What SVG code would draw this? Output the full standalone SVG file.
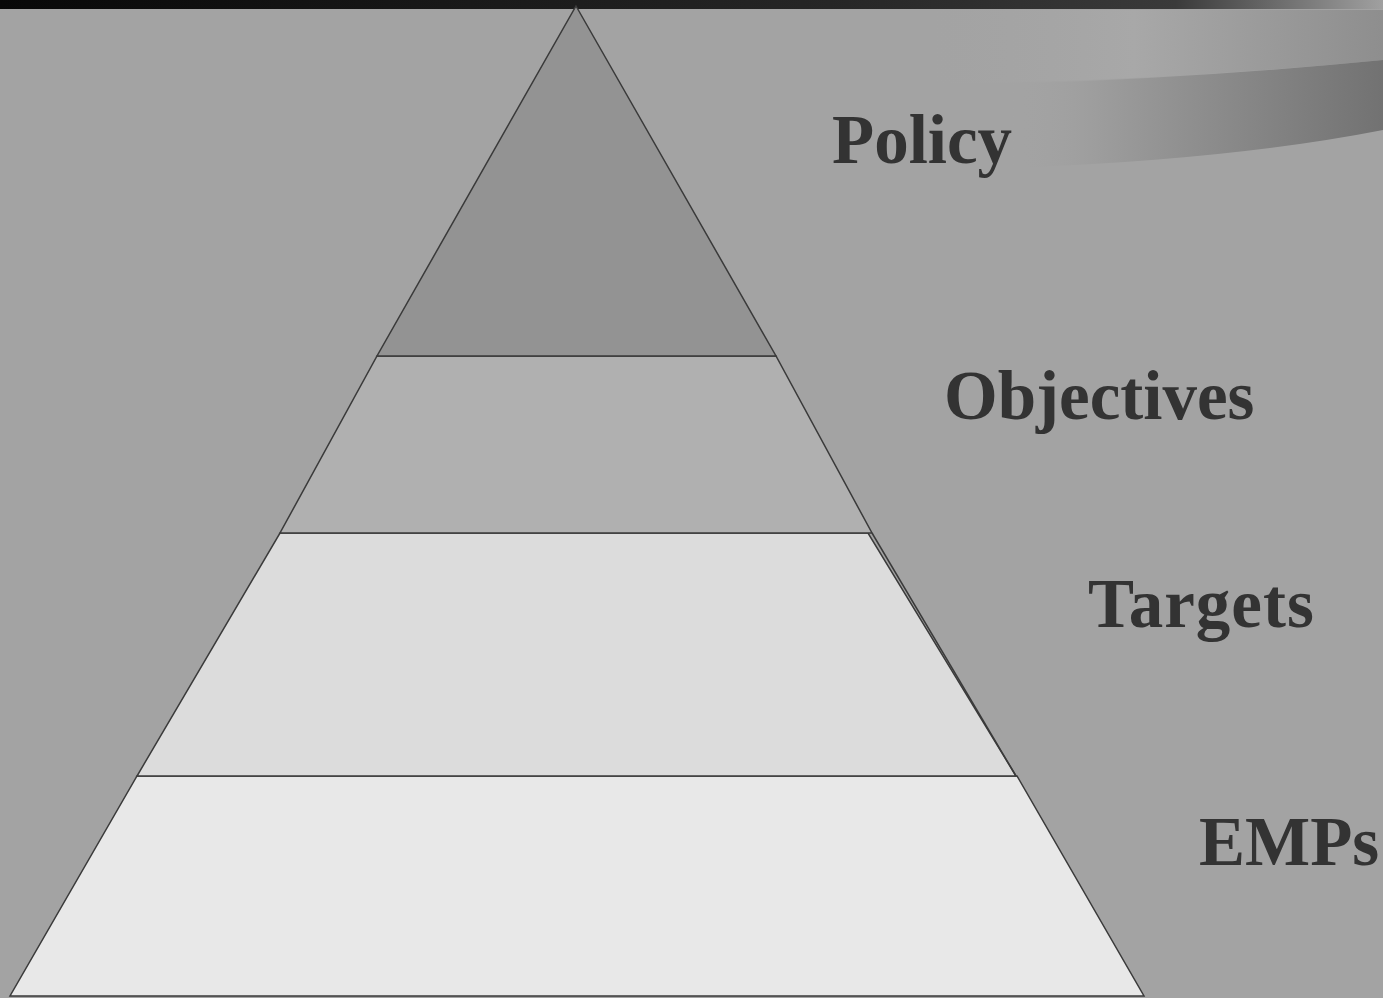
<svg xmlns="http://www.w3.org/2000/svg" width="1383" height="998" viewBox="0 0 1383 998">
<defs>
<linearGradient id="topbar" x1="0" y1="0" x2="1" y2="0">
<stop offset="0" stop-color="#080808"/>
<stop offset="0.6" stop-color="#262626"/>
<stop offset="0.85" stop-color="#3a3a3a"/>
<stop offset="1" stop-color="#a0a0a0"/>
</linearGradient>
<linearGradient id="swoosh1" x1="0" y1="0" x2="1" y2="0">
<stop offset="0" stop-color="#a4a4a4" stop-opacity="0"/>
<stop offset="0.45" stop-color="#a8a8a8"/>
<stop offset="1" stop-color="#8e8e8e"/>
</linearGradient>
<linearGradient id="swoosh2" x1="0" y1="0" x2="1" y2="0">
<stop offset="0" stop-color="#a4a4a4" stop-opacity="0"/>
<stop offset="0.25" stop-color="#9c9c9c"/>
<stop offset="1" stop-color="#727272"/>
</linearGradient>
<style>
.layer{stroke:#3a3a3a;stroke-width:1.5;stroke-linejoin:miter}
.lbl{font-family:"Liberation Serif","Times New Roman",serif;font-weight:bold;font-size:69px;fill:#333333}
</style>
</defs>
<rect width="1383" height="998" fill="#a3a3a3"/>
<g id="decor">
<path d="M930 10 L1383 10 L1383 60 Q1200 78 1000 83 L930 84 Z" fill="url(#swoosh1)"/>
<path d="M1010 84 Q1200 78 1383 60 L1383 130 Q1230 160 1010 168 Z" fill="url(#swoosh2)"/>
<rect x="0" y="0" width="1383" height="9" fill="url(#topbar)"/>
</g>
<g id="pyramid">
<g id="layer-emps"><polygon class="layer" points="137,776 1017,776 1144,996 10,996" fill="#e8e8e8"/></g>
<g id="layer-targets"><polygon class="layer" points="280,533 868,533 1016,776 137,776" fill="#dcdcdc"/></g>
<g id="layer-objectives"><polygon class="layer" points="377,356 776,356 872,533 280,533" fill="#b0b0b0"/></g>
<g id="layer-policy"><polygon class="layer" points="576,6 776,356 377,356" fill="#939393"/></g>
<line x1="872" y1="533" x2="1016" y2="776" stroke="#3a3a3a" stroke-width="1.5"/>
</g>
<g id="connectors"></g>
<g id="labels">
<text id="label-policy" class="lbl" x="832" y="163">Policy</text>
<text id="label-objectives" class="lbl" x="944" y="419">Objectives</text>
<text id="label-targets" class="lbl" x="1088" y="627" letter-spacing="1">Targets</text>
<text id="label-emps" class="lbl" x="1199" y="865">EMPs</text>
</g>
</svg>
